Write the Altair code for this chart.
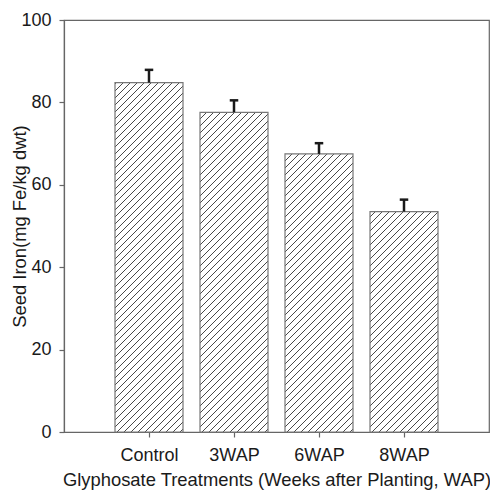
import altair as alt
import pandas as pd

# ---- data ----
categories = ["Control", "3WAP", "6WAP", "8WAP"]
positions = [1, 2, 3, 4]
iron = [84.8, 77.6, 67.5, 53.5]
errors = [3.1, 2.9, 2.6, 2.9]
y_ticks = [0, 20, 40, 60, 80, 100]

# ---- layout ----
W, H = 425, 412
XMAX, YMAX = 5, 100
HALF = 0.4          # half bar width in x units
CAP = 0.05          # half cap width in x units
PX_X = W / XMAX
PX_Y = H / YMAX
SPACING = 7.0       # hatch spacing (px, horizontal)

bars = pd.DataFrame({"cat": categories, "pos": positions, "val": iron, "err": errors})
bars["x1"] = bars["pos"] - HALF
bars["x2"] = bars["pos"] + HALF
bars["top"] = bars["val"] + bars["err"]
bars["c1"] = bars["pos"] - CAP
bars["c2"] = bars["pos"] + CAP
bars["zero"] = 0

# hatch segments (45 degree lines clipped to each bar), derived from bar values
rows = []
for p, v in zip(positions, iron):
    left = p - HALF
    wpx = 2 * HALF * PX_X
    hpx = v * PX_Y
    c = -wpx + 3.0
    while c < hpx:
        u0 = max(0.0, -c)
        u1 = min(wpx, hpx - c)
        if u1 > u0:
            rows.append({
                "hx1": left + u0 / PX_X, "hy1": (u0 + c) / PX_Y,
                "hx2": left + u1 / PX_X, "hy2": (u1 + c) / PX_Y,
            })
        c += SPACING
hatch = pd.DataFrame(rows)

xscale = alt.Scale(domain=[0, XMAX], nice=False, zero=False)
yscale = alt.Scale(domain=[0, YMAX], nice=False)

label_expr = "['','" + "','".join(categories) + "',''][datum.value]"

xaxis = alt.Axis(
    title="Glyphosate Treatments (Weeks after Planting, WAP)",
    values=positions, labelExpr=label_expr, grid=False,
    tickSize=5, labelPadding=9, titleBaseline="alphabetic", titleY=53,
    titleFontSize=18.4,
)
yaxis = alt.Axis(
    title="Seed Iron(mg Fe/kg dwt)", values=y_ticks, grid=False,
    tickSize=5, labelPadding=8, titleBaseline="alphabetic", titleX=-39,
    titleY=H / 2, titleFontSize=18.4,
)

base = alt.Chart(bars)

fill = base.mark_rect(fill="white", stroke=None).encode(
    x=alt.X("x1:Q", scale=xscale, axis=xaxis), x2="x2:Q",
    y=alt.Y("zero:Q", scale=yscale, axis=yaxis), y2="val:Q",
)

hatch_layer = alt.Chart(hatch).mark_rule(color="#333333", strokeWidth=0.9).encode(
    x=alt.X("hx1:Q", scale=xscale), x2="hx2:Q",
    y=alt.Y("hy1:Q", scale=yscale), y2="hy2:Q",
)

outline = base.mark_rect(fill=None, stroke="#777777", strokeWidth=1.2).encode(
    x=alt.X("x1:Q", scale=xscale), x2="x2:Q",
    y=alt.Y("zero:Q", scale=yscale), y2="val:Q",
)

stem = base.mark_rule(color="#1a1a1a", strokeWidth=2.5).encode(
    x=alt.X("pos:Q", scale=xscale),
    y=alt.Y("val:Q", scale=yscale), y2="top:Q",
)

cap = base.mark_rule(color="#1a1a1a", strokeWidth=2.5).encode(
    x=alt.X("c1:Q", scale=xscale), x2="c2:Q",
    y=alt.Y("top:Q", scale=yscale),
)

chart = alt.layer(fill, hatch_layer, outline, stem, cap).properties(
    width=W, height=H,
    autosize=alt.AutoSizeParams(type="none"),
    padding={"left": 56, "top": 12, "right": 1, "bottom": 58},
).configure_view(
    stroke="#666666", strokeWidth=1.2,
).configure_axis(
    labelFont="Liberation Sans", titleFont="Liberation Sans",
    labelFontSize=18, labelColor="#1a1a1a", titleColor="#1a1a1a",
    titleFontWeight="normal", domainColor="#666666", tickColor="#666666",
    domainWidth=1.2, tickWidth=1.2,
)

chart.save("out.html", embed_options={"renderer": "svg", "actions": False})
